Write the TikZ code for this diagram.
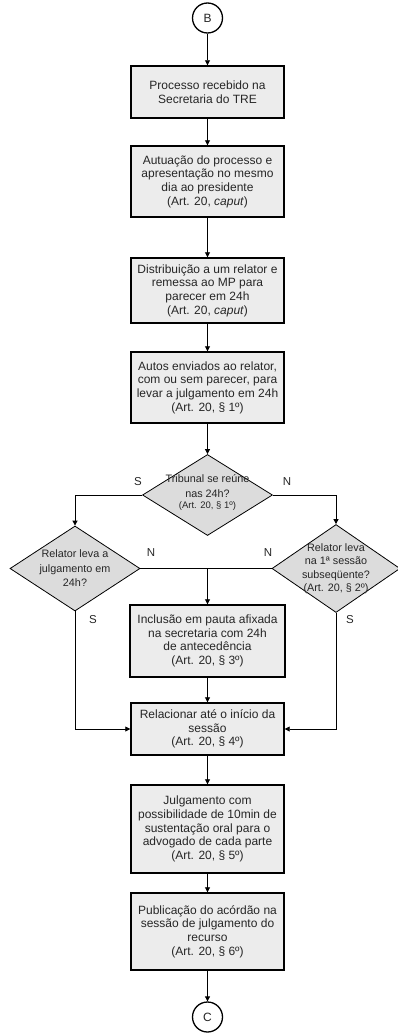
\documentclass[tikz,border=0pt]{standalone}
\usepackage{fontspec}
\setmainfont{Liberation Sans}
\usetikzlibrary{arrows.meta,shapes.geometric}
\definecolor{boxfill}{HTML}{ECECEC}
\definecolor{dfill}{HTML}{DCDCDC}
\definecolor{txt}{HTML}{262626}
\begin{document}
\begin{tikzpicture}[x=1pt,y=1pt,
  stepbox/.style={draw=black,line width=1.4pt,fill=boxfill,rectangle,inner sep=0pt,
    minimum width=153pt,align=center,font=\fontsize{12}{13.6}\selectfont,text=txt},
  decision/.style={draw=black,line width=0.8pt,fill=dfill,diamond,inner sep=0pt},
  dtext/.style={align=center,font=\fontsize{10.8}{14.5}\selectfont,text=txt},
  conn/.style={draw=black,line width=0.8pt},
  arr/.style={conn,-{Triangle[width=5pt,length=5pt]}},
  lab/.style={font=\fontsize{11.5}{12}\selectfont,text=txt,inner sep=0pt},
  connector/.style={draw=black,line width=1.3pt,fill=white,circle,inner sep=0pt,
    font=\fontsize{12}{13}\selectfont,text=txt}
]
\useasboundingbox (0,0) rectangle (397,-1033);
\node[connector,minimum size=30pt] (B) at (207.5,-18) {B};
\node[stepbox,minimum height=52pt] (b1) at (207.5,-92) {Processo recebido na\\Secretaria do TRE};
\node[stepbox,minimum height=71pt] (b2) at (207.5,-181.5) {Autuação do processo e\\apresentação no mesmo\\dia ao presidente\\(Art. 20, \textit{caput})};
\node[stepbox,minimum height=65pt] (b3) at (207.5,-290.5) {Distribuição a um relator e\\remessa ao MP para\\parecer em 24h\\(Art. 20, \textit{caput})};
\node[stepbox,minimum height=71pt] (b4) at (207.5,-387.5) {Autos enviados ao relator,\\com ou sem parecer, para\\levar a julgamento em 24h\\(Art. 20, § 1º)};
\node[decision,minimum width=130pt,minimum height=81pt] (d1) at (207.5,-495) {};
\node[dtext] (d1t) at (207.5,-493) {Tribunal se reúne\\nas 24h?\\[-3pt]{\fontsize{9.5}{10}\selectfont (Art. 20, § 1º)}};
\node[decision,minimum width=130pt,minimum height=85pt] (d2) at (75,-568.5) {};
\node[dtext] (d2t) at (d2.center) {Relator leva a\\julgamento em\\24h?};
\node[decision,minimum width=128pt,minimum height=88pt] (d3) at (336,-568.5) {};
\node[dtext,font=\fontsize{10.8}{13.5}\selectfont] (d3t) at (d3.center) {Relator leva\\na 1ª sessão\\subseqüente?\\(Art. 20, § 2º)};
\node[stepbox,minimum width=155pt,minimum height=72pt] (b5) at (207.5,-641) {Inclusão em pauta afixada\\na secretaria com 24h\\de antecedência\\(Art. 20, § 3º)};
\node[stepbox,minimum height=52pt] (b6) at (207.5,-729) {Relacionar até o início da\\sessão\\(Art. 20, § 4º)};
\node[stepbox,minimum height=88pt] (b7) at (207.5,-829) {Julgamento com\\possibilidade de 10min de\\sustentação oral para o\\advogado de cada parte\\(Art. 20, § 5º)};
\node[stepbox,minimum height=77pt] (b8) at (207.5,-931.5) {Publicação do acórdão na\\sessão de julgamento do\\recurso\\(Art. 20, § 6º)};
\node[connector,minimum size=30pt] (C) at (207.5,-1017) {C};
\coordinate (join) at (207.5,-568.5);
\draw[arr] (B) -- (b1);
\draw[arr] (b1) -- (b2);
\draw[arr] (b2) -- (b3);
\draw[arr] (b3) -- (b4);
\draw[arr] (b4) -- (d1.north);
\draw[arr] (d1.west) -| (d2.north);
\draw[arr] (d1.east) -| (d3.north);
\draw[conn] (d2.east) -- (join);
\draw[conn] (d3.west) -- (join);
\draw[arr] (join) -- (b5.north);
\draw[arr] (d2.south) |- (b6.west);
\draw[arr] (d3.south) |- (b6.east);
\draw[arr] (b5) -- (b6);
\draw[arr] (b6) -- (b7);
\draw[arr] (b7) -- (b8);
\draw[arr] (b8) -- (C);
\node[lab] (s1) at (138,-482) {S};
\node[lab] (n1) at (287,-482) {N};
\node[lab] (n2) at (151,-553) {N};
\node[lab] (n3) at (268,-553) {N};
\node[lab] (s2) at (93,-620) {S};
\node[lab] (s3) at (350,-620) {S};
\end{tikzpicture}
\end{document}
